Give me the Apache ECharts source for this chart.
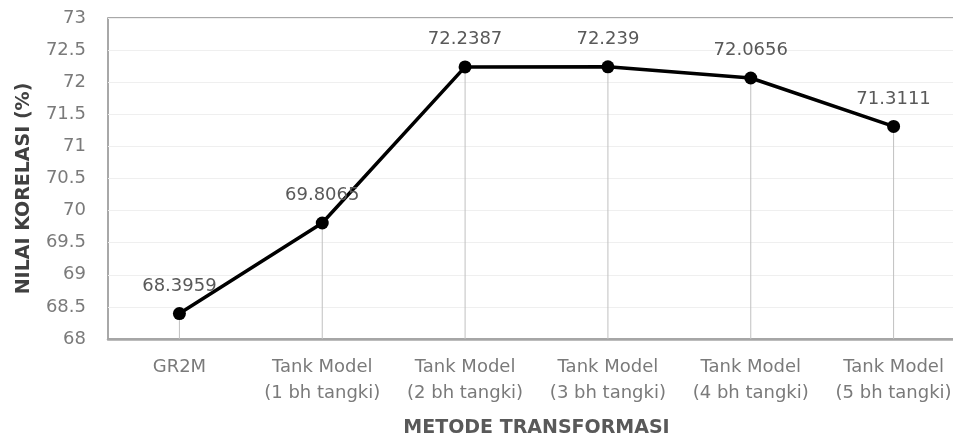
<!DOCTYPE html>
<html><head><meta charset="utf-8">
<script src="https://cdn.jsdelivr.net/npm/echarts@6/dist/echarts.min.js"></script>
<style>html,body{margin:0;padding:0;background:#fff}#c{width:953px;height:438px}</style>
</head><body><div id="c"></div>
<script>
const categories = ["GR2M","Tank Model\n(1 bh tangki)","Tank Model\n(2 bh tangki)","Tank Model\n(3 bh tangki)","Tank Model\n(4 bh tangki)","Tank Model\n(5 bh tangki)"];
const values = [68.3959, 69.8065, 72.2387, 72.239, 72.0656, 71.3111];
const valueLabels = ["68.3959","69.8065","72.2387","72.239","72.0656","71.3111"];
const yMin = 68, yMax = 73, yStep = 0.5;
const yTitle = "NILAI KORELASI (%)";
const xTitle = "METODE TRANSFORMASI";

const font = "DejaVu Sans";
const chart = echarts.init(document.getElementById('c'), null, {renderer:'canvas'});
chart.setOption({
  animation:false,
  textStyle:{fontFamily:font},
  grid:{left:108, top:18, width:857, height:321, show:true, borderColor:'#8c8c8c', borderWidth:1.5,
        containLabel:false, outerBoundsMode:'none'},
  xAxis:{
    type:'category', data:categories, boundaryGap:true,
    axisLine:{lineStyle:{color:'#a6a6a6', width:2.5}},
    axisTick:{show:false},
    axisLabel:{color:'#7a7a7a', fontSize:18, lineHeight:26, margin:15, interval:0},
    name:xTitle, nameLocation:'middle', nameGap:80,
    nameTextStyle:{color:'#595959', fontSize:19, fontWeight:'bold'}
  },
  yAxis:{
    type:'value', min:yMin, max:yMax, interval:yStep,
    axisLine:{show:false}, axisTick:{show:false},
    splitLine:{lineStyle:{color:'#efefef', width:1}},
    axisLabel:{color:'#7a7a7a', fontSize:18, margin:22},
    name:yTitle, nameLocation:'middle', nameGap:74, nameRotate:90,
    nameTextStyle:{color:'#404040', fontSize:19, fontWeight:'bold', padding:[0,20,0,0]}
  },
  series:[
    {type:'bar', data:values, barWidth:1, silent:true, itemStyle:{color:'#c0c0c0'}, z:1},
    {type:'line', data:values, symbol:'circle', symbolSize:13,
     lineStyle:{color:'#000', width:3.5}, itemStyle:{color:'#000'}, z:3,
     label:{show:true, position:'top', distance:12, color:'#595959', fontSize:18,
       formatter:p=>valueLabels[p.dataIndex]}}
  ]
});
</script></body></html>
